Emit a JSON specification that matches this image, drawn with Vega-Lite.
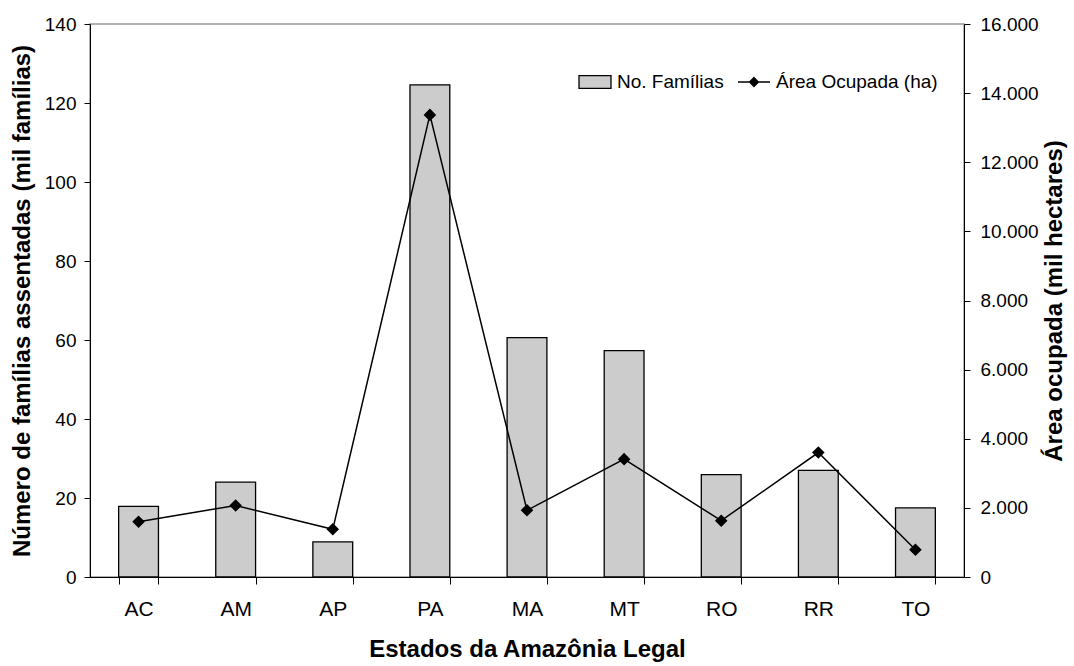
{
  "$schema": "https://vega.github.io/schema/vega-lite/v6.json",
  "width": 874,
  "height": 553,
  "autosize": "none",
  "padding": {"left": 90, "top": 24, "right": 110, "bottom": 89},
  "background": "white",
  "config": {
    "font": "Liberation Sans",
    "view": {"stroke": "#999999", "strokeWidth": 1.5},
    "axis": {
      "labelFont": "Liberation Sans",
      "titleFont": "Liberation Sans",
      "labelColor": "black",
      "titleColor": "black",
      "domainColor": "black",
      "tickColor": "black",
      "grid": false,
      "labelFontSize": 19,
      "titleFontSize": 24,
      "titleFontWeight": "bold"
    },
    "legend": {
      "orient": "none",
      "direction": "horizontal",
      "labelFont": "Liberation Sans",
      "labelFontSize": 19,
      "labelColor": "black",
      "labelLimit": 400,
      "symbolSize": 1024,
      "labelOffset": 5,
      "padding": 0,
      "legendY": 41
    }
  },
  "data": {
    "values": [
      {"estado": "AC", "familias": 17.9, "area": 1600},
      {"estado": "AM", "familias": 24.0, "area": 2070},
      {"estado": "AP", "familias": 8.9, "area": 1380},
      {"estado": "PA", "familias": 124.6, "area": 13370},
      {"estado": "MA", "familias": 60.6, "area": 1930},
      {"estado": "MT", "familias": 57.3, "area": 3410},
      {"estado": "RO", "familias": 25.9, "area": 1630},
      {"estado": "RR", "familias": 27.0, "area": 3600},
      {"estado": "TO", "familias": 17.5, "area": 790}
    ]
  },
  "encoding": {
    "x": {
      "field": "estado",
      "type": "nominal",
      "sort": ["AC", "AM", "AP", "PA", "MA", "MT", "RO", "RR", "TO"],
      "scale": {"paddingInner": 0.59, "paddingOuter": 0.295},
      "axis": {
        "title": "Estados da Amazônia Legal",
        "labelAngle": 0,
        "tickBand": "extent",
        "tickSize": 7,
        "labelPadding": 14,
        "labelFontSize": 21,
        "titlePadding": 18
      }
    }
  },
  "layer": [
    {
      "mark": {"type": "bar", "stroke": "black", "strokeWidth": 1.3},
      "encoding": {
        "y": {
          "field": "familias",
          "type": "quantitative",
          "scale": {"domain": [0, 140]},
          "axis": {
            "title": "Número de famílias assentadas (mil famílias)",
            "values": [0, 20, 40, 60, 80, 100, 120, 140],
            "tickSize": 6,
            "labelPadding": 8,
            "titlePadding": 10
          }
        },
        "fill": {
          "datum": "No. Famílias",
          "scale": {"range": ["#cccccc"]},
          "legend": {
            "title": null,
            "legendX": 488,
            "symbolType": "M-1,-0.4H1V0.4H-1Z",
            "symbolFillColor": "#cccccc",
            "symbolStrokeColor": "black",
            "symbolStrokeWidth": 1.3,
            "symbolOpacity": 1
          }
        }
      }
    },
    {
      "mark": {"type": "line", "strokeWidth": 1.5, "point": {"shape": "diamond", "size": 95, "filled": true, "color": "black"}},
      "encoding": {
        "y": {
          "field": "area",
          "type": "quantitative",
          "scale": {"domain": [0, 16000]},
          "axis": {
            "orient": "right",
            "title": "Área ocupada (mil hectares)",
            "values": [0, 2000, 4000, 6000, 8000, 10000, 12000, 14000, 16000],
            "labelExpr": "replace(format(datum.value, ','), ',', '.')",
            "tickSize": 6,
            "labelPadding": 10,
            "titleAngle": 270,
            "titleBaseline": "top",
            "titlePadding": 4,
            "titleFontSize": 24
          }
        },
        "stroke": {
          "datum": "Área Ocupada (ha)",
          "scale": {"range": ["#000000"]},
          "legend": {
            "title": null,
            "legendX": 647,
            "symbolType": "M-1,0H1M0,-0.27L0.27,0L0,0.27L-0.27,0Z",
            "symbolStrokeWidth": 1.5,
            "symbolOpacity": 1,
            "encode": {
              "symbols": {
                "update": {
                  "fill": {"value": "#000000"},
                  "stroke": {"value": "#000000"}
                }
              }
            }
          }
        }
      }
    }
  ],
  "resolve": {"scale": {"y": "independent"}}
}
